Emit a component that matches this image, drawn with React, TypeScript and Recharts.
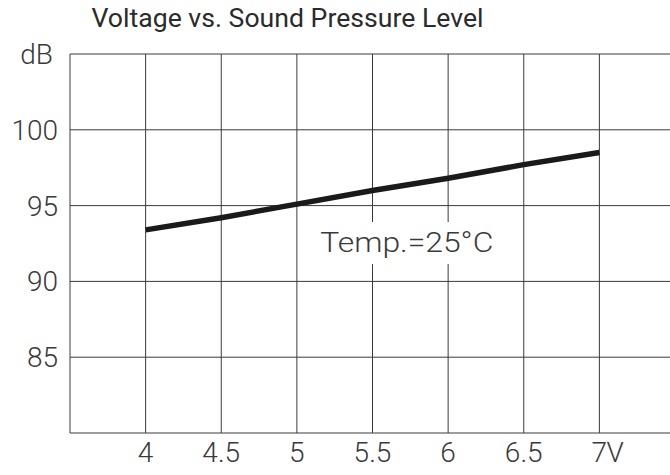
import React from 'react';
import { LineChart, Line, XAxis, YAxis, CartesianGrid, ReferenceDot } from 'recharts';

// SPL curve
const voltage = [4, 4.5, 5, 5.5, 6, 6.5, 7];
const splDb = [93.4, 94.2, 95.1, 96.0, 96.8, 97.7, 98.5];
const xTicks = [3.5, 4, 4.5, 5, 5.5, 6, 6.5, 7, 7.5];
const yTicks = [80, 85, 90, 95, 100, 105];
const xTickLabels = ['', '4', '4.5', '5', '5.5', '6', '6.5', '7', ''];
const yTickLabels = ['', '85', '90', '95', '100', 'dB'];

const chartData = voltage.map((v, i) => ({ v, db: splDb[i] }));

const FONT = 'Roboto, "DejaVu Sans", sans-serif';
const INK = '#2b2b2b';
const TICK_INK = '#3a3a3a';

function XTick(props: any) {
  const { x, y, payload } = props;
  const idx = xTicks.indexOf(payload.value);
  const label = xTickLabels[idx] ?? '';
  if (!label) return null;
  return (
    <g>
      <text x={x} y={y + 21} textAnchor="middle" fontFamily={FONT} fontWeight={300} fontSize={28} fill={TICK_INK}>
        {label}
      </text>
      {label === '7' && (
        <text x={x + 7} y={y + 21} textAnchor="start" fontFamily={FONT} fontWeight={300} fontSize={28} fill={TICK_INK}>
          V
        </text>
      )}
    </g>
  );
}

function YTick(props: any) {
  const { x, y, payload } = props;
  const idx = yTicks.indexOf(payload.value);
  const label = yTickLabels[idx] ?? '';
  if (!label) return null;
  return (
    <text
      x={label === 'dB' ? x - 9 : x - 4}
      y={y + 10}
      textAnchor="end"
      fontFamily={FONT}
      fontWeight={300}
      fontSize={28}
      fill={TICK_INK}
    >
      {label}
    </text>
  );
}

function TempNote(props: any) {
  const { cx, cy } = props;
  return (
    <g>
      <rect x={cx - 95} y={cy - 21} width={190} height={42} fill="#fff" />
      <text
        x={cx}
        y={cy + 9}
        textAnchor="middle"
        fontFamily={FONT}
        fontWeight={300}
        fontSize={28}
        fill={TICK_INK}
        textLength={173}
        lengthAdjust="spacingAndGlyphs"
      >
        Temp.=25°C
      </text>
    </g>
  );
}

export default function App() {
  return (
    <div style={{ position: 'absolute', left: 0, top: 0, width: 670, height: 475, overflow: 'hidden', background: '#fff' }}>
      <svg width={670} height={45} style={{ position: 'absolute', left: 0, top: 0 }}>
        <text
          x={91.5}
          y={27}
          fontFamily={FONT}
          fontSize={26}
          fill={INK}
          textLength={392}
          lengthAdjust="spacingAndGlyphs"
        >
          Voltage vs. Sound Pressure Level
        </text>
      </svg>
      <LineChart width={700} height={475} data={chartData} margin={{ top: 54, right: 25, left: 0, bottom: 0 }}>
        <CartesianGrid stroke="#3a3a3a" strokeWidth={1} />
        <XAxis
          type="number"
          dataKey="v"
          domain={[3.5, 7.5]}
          ticks={xTicks}
          interval={0}
          height={42}
          axisLine={false}
          tickLine={false}
          tick={<XTick />}
        />
        <YAxis
          type="number"
          domain={[80, 105]}
          ticks={yTicks}
          interval={0}
          width={70}
          axisLine={false}
          tickLine={false}
          tick={<YTick />}
        />
        <ReferenceDot x={5.727} y={92.53} r={0} shape={<TempNote />} />
        <Line
          type="linear"
          dataKey="db"
          stroke="#1a1a1a"
          strokeWidth={5.5}
          dot={false}
          isAnimationActive={false}
        />
      </LineChart>
    </div>
  );
}
